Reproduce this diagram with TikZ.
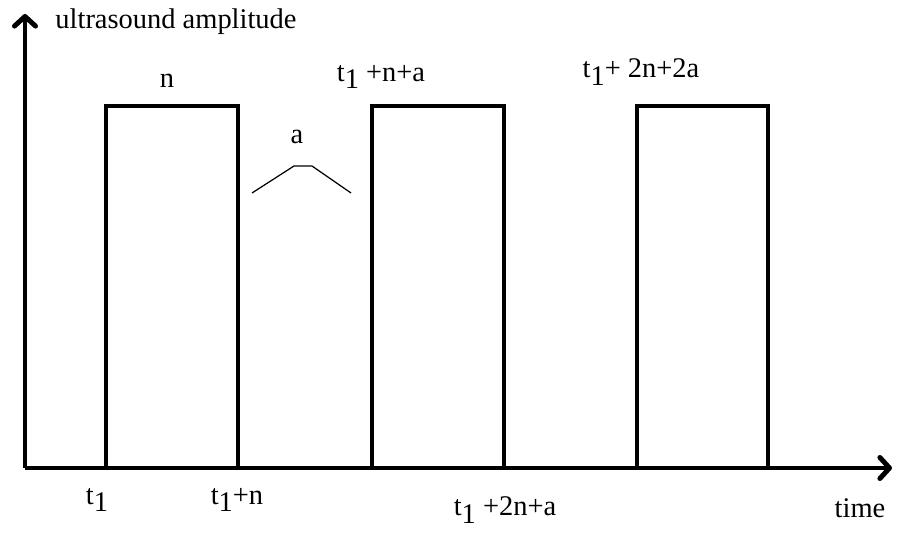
\documentclass[tikz,border=0pt]{standalone}
\usepackage{fontspec}
\setmainfont{Liberation Serif}
\usetikzlibrary{arrows.meta}
\newcommand{\tone}{t\raisebox{-0.55ex}{1}}
\begin{document}
\begin{tikzpicture}[x=0.02cm, y=-0.02cm,
  every node/.style={font=\fontsize{16.2}{19}\selectfont, inner sep=0pt},
  axis/.style={line width=2.8pt, -{Straight Barb[length=5.5pt, width=12pt, line width=2.8pt, round]}},
  pulse/.style={line width=2.8pt, line join=miter}]
  \useasboundingbox (0,0) rectangle (902,536);
  % axes
  \coordinate (origin) at (25,468);
  \coordinate (ytip) at (25,14);
  \coordinate (xtip) at (892,468);
  \draw[axis] (origin) -- (ytip);
  \draw[axis] (origin) -- (xtip);
  \node (ylabel) at (176,22) {ultrasound amplitude};
  \node (xlabel) at (860,508) {time};
  % pulses
  \draw[pulse] (106,468) -- (106,106) -- (238,106) -- (238,468);
  \draw[pulse] (372,468) -- (372,106) -- (504,106) -- (504,468);
  \draw[pulse] (637,468) -- (637,106) -- (768,106) -- (768,468);
  % gap marker
  \draw[line width=0.7pt] (252,193) -- (294,166) -- (312,166) -- (351,193);
  \node (nlabel) at (167,81) {n};
  \node (alabel) at (297,137) {a};
  % time labels
  \node (tA) at (97,500) {\tone};
  \node (tB) at (237,500) {\tone +n};
  \node (tC) at (505,510) {\tone\ +2n+a};
  \node (tD) at (381,77) {\tone\ +n+a};
  \node (tE) at (641,72) {\tone+ 2n+2a};
\end{tikzpicture}
\end{document}
